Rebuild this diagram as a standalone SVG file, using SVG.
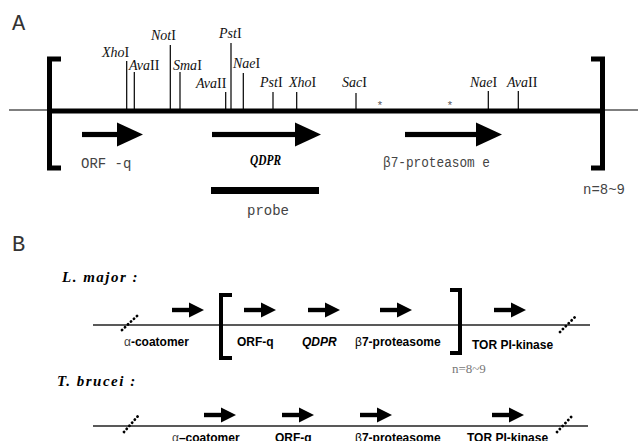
<svg xmlns="http://www.w3.org/2000/svg" width="638" height="441" viewBox="0 0 638 441">
<style>
.panel{font-family:"Liberation Mono","Courier New",monospace;font-size:22px;fill:#333}
.site{font-family:"Liberation Serif","Times New Roman",serif;font-size:14px;fill:#111}
.site .i{font-style:italic}
.mono{font-family:"Liberation Mono","Courier New",monospace;font-size:14px;fill:#444}
.cut{stroke:#000;stroke-width:1.2}
.thin{stroke:#000;stroke-width:1.2;fill:none}
.thick{stroke:#000;stroke-width:5;fill:none}
.brk{stroke:#000;fill:none;stroke-linecap:butt}
.sp{font-family:"Liberation Serif","Times New Roman",serif;font-size:15px;font-weight:bold;font-style:italic;letter-spacing:1.5px;fill:#000}
.lab{font-family:"Liberation Sans",Arial,sans-serif;font-size:12px;font-weight:bold;fill:#000}
.dots{stroke:#000;stroke-width:2.8;stroke-linecap:round;stroke-dasharray:0.1 4}
.bline{stroke:#222;stroke-width:1.6}
.star{font-family:"Liberation Sans",Arial,sans-serif;font-size:11px;fill:#555}
</style>
<defs>
<g id="smallArrow"><rect x="0" y="-2.2" width="18" height="4.4"/><polygon points="17,-7.5 17,7.5 32,0"/></g>
</defs>

<text class="panel" x="12" y="30">A</text>
<text class="panel" x="12" y="251">B</text>

<g id="panelA-backbone">
<line class="thin" x1="9" y1="110" x2="50" y2="110"/>
<line class="thin" x1="603" y1="110" x2="638" y2="110"/>
<line class="thick" x1="48" y1="111" x2="604" y2="111"/>
<path class="brk" stroke-width="5" d="M61,59 H49.5 V168 H61"/>
<path class="brk" stroke-width="5" d="M591,59 H602.5 V168 H591"/>
</g>

<g id="sites">
<line class="cut" x1="126.7" y1="61" x2="126.7" y2="109"/>
<line class="cut" x1="134.3" y1="72" x2="134.3" y2="109"/>
<line class="cut" x1="170.3" y1="45" x2="170.3" y2="109"/>
<line class="cut" x1="180" y1="72" x2="180" y2="109"/>
<line class="cut" x1="225.7" y1="92" x2="225.7" y2="109"/>
<line class="cut" x1="231" y1="43" x2="231" y2="109" stroke="#888"/>
<line class="cut" x1="243.3" y1="73" x2="243.3" y2="109"/>
<line class="cut" x1="273" y1="92" x2="273" y2="109"/>
<line class="cut" x1="296.7" y1="92" x2="296.7" y2="109"/>
<line class="cut" x1="356" y1="93" x2="356" y2="109"/>
<line class="cut" x1="488.3" y1="91" x2="488.3" y2="109"/>
<line class="cut" x1="518.3" y1="91" x2="518.3" y2="109"/>
<text class="site" x="102" y="57"><tspan class="i">Xho</tspan>I</text>
<text class="site" x="129" y="70"><tspan class="i">Ava</tspan>II</text>
<text class="site" x="151" y="40"><tspan class="i">Not</tspan>I</text>
<text class="site" x="173" y="70"><tspan class="i">Sma</tspan>I</text>
<text class="site" x="196" y="88"><tspan class="i">Ava</tspan>II</text>
<text class="site" x="219" y="38"><tspan class="i">Pst</tspan>I</text>
<text class="site" x="233" y="68"><tspan class="i">Nae</tspan>I</text>
<text class="site" x="260" y="87"><tspan class="i">Pst</tspan>I</text>
<text class="site" x="289" y="87"><tspan class="i">Xho</tspan>I</text>
<text class="site" x="342" y="87"><tspan class="i">Sac</tspan>I</text>
<text class="site" x="470" y="87"><tspan class="i">Nae</tspan>I</text>
<text class="site" x="507" y="87"><tspan class="i">Ava</tspan>II</text>
<text class="star" x="380" y="109" text-anchor="middle">*</text>
<text class="star" x="450" y="109" text-anchor="middle">*</text>
</g>

<g id="genesA">
<g transform="translate(82,134.5)"><rect x="0" y="-2.6" width="36" height="5.2"/><polygon points="35,-12 35,12 61,0"/></g>
<g transform="translate(212,134.5)"><rect x="0" y="-2.6" width="84" height="5.2"/><polygon points="83,-12 83,12 109,0"/></g>
<g transform="translate(405,134.5)"><rect x="0" y="-2.6" width="72" height="5.2"/><polygon points="71,-12 71,12 97,0"/></g>
<text class="mono" x="81" y="168">ORF -q</text>
<text x="250" y="165" font-family="Liberation Serif, Times New Roman, serif" font-size="14" font-weight="bold" font-style="italic" textLength="31" lengthAdjust="spacingAndGlyphs">QDPR</text>
<text class="mono" x="383" y="167" font-size="13" textLength="107" lengthAdjust="spacingAndGlyphs">β7-proteasom e</text>
<rect x="211" y="187" width="108" height="7"/>
<text class="mono" x="247" y="215">probe</text>
<text class="mono" x="583" y="194" font-size="13" fill="#666" textLength="42" lengthAdjust="spacingAndGlyphs">n=8~9</text>
</g>

<g id="lmajor">
<text class="sp" x="62" y="282">L. major :</text>
<line class="bline" x1="93" y1="325" x2="590" y2="325"/>
<line class="dots" x1="122" y1="330" x2="138" y2="315"/>
<line class="dots" x1="560" y1="332" x2="577" y2="315"/>
<use href="#smallArrow" transform="translate(172,310)"/>
<use href="#smallArrow" transform="translate(244,310)"/>
<use href="#smallArrow" transform="translate(308,310)"/>
<use href="#smallArrow" transform="translate(380,310)"/>
<use href="#smallArrow" transform="translate(494,310)"/>
<path class="brk" stroke-width="4" d="M232,295 H221 V358 H232"/>
<path class="brk" stroke-width="4" d="M450,290 H460 V353 H450"/>
<text class="lab" x="124" y="346"><tspan font-weight="normal" fill="#444">α</tspan>-coatomer</text>
<text class="lab" x="237" y="346">ORF-q</text>
<text class="lab" x="302" y="346" font-style="italic">QDPR</text>
<text class="lab" x="355" y="346"><tspan font-weight="normal">β</tspan>7-proteasome</text>
<text class="lab" x="472" y="349">TOR PI-kinase</text>
<text x="452" y="373" font-family="Liberation Serif, Times New Roman, serif" font-size="13" fill="#777">n=8~9</text>
</g>

<g id="tbrucei">
<text class="sp" x="57" y="386">T. brucei :</text>
<line class="bline" x1="93" y1="426" x2="588" y2="426"/>
<line class="dots" x1="124" y1="432" x2="138" y2="416"/>
<line class="dots" x1="557" y1="432" x2="573" y2="415"/>
<use href="#smallArrow" transform="translate(204,415)"/>
<use href="#smallArrow" transform="translate(282,415)"/>
<use href="#smallArrow" transform="translate(360,415)"/>
<use href="#smallArrow" transform="translate(492,415)"/>
<text class="lab" x="172" y="442"><tspan font-weight="normal" fill="#444">α</tspan>–coatomer</text>
<text class="lab" x="275" y="442">ORF-q</text>
<text class="lab" x="355" y="442"><tspan font-weight="normal">β</tspan>7-proteasome</text>
<text class="lab" x="467" y="442">TOR PI-kinase</text>
</g>
</svg>
